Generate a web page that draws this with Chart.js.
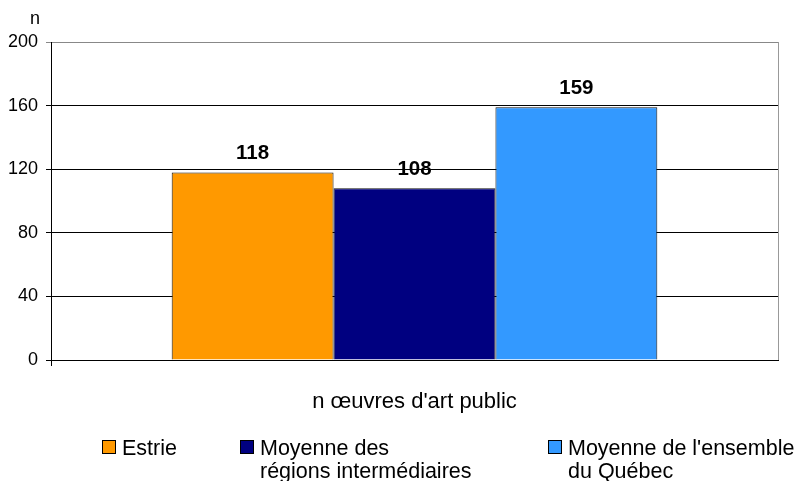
<!DOCTYPE html>
<html>
<head>
<meta charset="utf-8">
<script src="https://cdn.jsdelivr.net/npm/chart.js@4.4.0/dist/chart.umd.min.js"></script>
<style>
  body { margin: 0; background: #fff; }
  #wrap { width: 801px; height: 481px; }
</style>
</head>
<body>
<div id="wrap"><canvas id="chart" width="801" height="481"></canvas></div>
<script>
// data
const categories = ["n œuvres d'art public"];
const seriesNames = ['Estrie', 'Moyenne des\nrégions intermédiaires', "Moyenne de l'ensemble\ndu Québec"];
const seriesValues = [[118], [108], [159]];
const seriesColors = ['#FF9900', '#000080', '#3399FF'];
const yTicks = [0, 40, 80, 120, 160, 200];
const yUnit = 'n';

const FONT = '"Liberation Sans", Arial, sans-serif';

// value labels above each bar
const valueLabels = {
    id: 'valueLabels',
    afterDatasetsDraw(chart) {
        const ctx = chart.ctx;
        ctx.save();
        ctx.font = 'bold 20.5px ' + FONT;
        ctx.fillStyle = '#000';
        ctx.textAlign = 'center';
        ctx.textBaseline = 'middle';
        chart.data.datasets.forEach((ds, i) => {
            chart.getDatasetMeta(i).data.forEach((bar, j) => {
                ctx.fillText(ds.data[j], bar.x, bar.y - 19);
            });
        });
        ctx.restore();
    }
};

// grey right border, unit label and the legend at the bottom
const extras = {
    id: 'extras',
    afterDraw(chart) {
        const ctx = chart.ctx;
        const a = chart.chartArea;
        ctx.save();
        ctx.strokeStyle = '#999';
        ctx.lineWidth = 1;
        ctx.beginPath();
        ctx.moveTo(Math.round(a.right) + 0.5, a.top);
        ctx.lineTo(Math.round(a.right) + 0.5, a.bottom);
        ctx.stroke();

        // little tick below the origin
        ctx.strokeStyle = '#000';
        ctx.beginPath();
        ctx.moveTo(Math.round(a.left) + 0.5, a.bottom);
        ctx.lineTo(Math.round(a.left) + 0.5, a.bottom + 6);
        ctx.stroke();

        ctx.fillStyle = '#000';
        ctx.font = '18px ' + FONT;
        ctx.textAlign = 'center';
        ctx.textBaseline = 'middle';
        ctx.fillText(yUnit, 35, 19);

        // legend
        const xs = [102, 240, 548];
        ctx.font = '21.5px ' + FONT;
        ctx.textAlign = 'left';
        ctx.textBaseline = 'alphabetic';
        chart.data.datasets.forEach((ds, i) => {
            const x = xs[i];
            ctx.fillStyle = ds.backgroundColor;
            ctx.fillRect(x, 440, 13, 13);
            ctx.strokeStyle = '#000';
            ctx.strokeRect(x + 0.5, 440.5, 13, 13);
            ctx.fillStyle = '#000';
            ds.label.split('\n').forEach((line, k) => {
                ctx.fillText(line, x + 20, 455 + k * 23);
            });
        });
        ctx.restore();
    }
};

new Chart(document.getElementById('chart'), {
    type: 'bar',
    data: {
        labels: categories,
        datasets: seriesNames.map((name, i) => ({
            label: name,
            data: seriesValues[i],
            backgroundColor: seriesColors[i],
            borderColor: '#111',
            borderWidth: 1,
            barPercentage: 1,
            categoryPercentage: 0.668
        }))
    },
    options: {
        responsive: false,
        animation: false,
        layout: { padding: { top: 42, right: 23, left: 0, bottom: 0 } },
        plugins: {
            legend: { display: false },
            tooltip: { enabled: false }
        },
        scales: {
            x: {
                afterFit(scale) { scale.height = 121; },
                grid: { display: false },
                border: { display: true, color: '#000', width: 1 },
                ticks: { color: '#000', font: { family: FONT, size: 22 }, padding: 21 }
            },
            y: {
                min: 0,
                max: 200,
                afterFit(scale) { scale.width = 51; },
                afterBuildTicks(scale) { scale.ticks = yTicks.map(v => ({ value: v })); },
                grid: {
                    color: c => (c.tick && c.tick.value === 200 ? '#888' : '#000'),
                    lineWidth: 1,
                    tickLength: 5,
                    drawTicks: true
                },
                border: { display: true, color: '#000', width: 1 },
                ticks: { color: '#000', font: { family: FONT, size: 18 }, padding: 8 }
            }
        }
    },
    plugins: [valueLabels, extras]
});
</script>
</body>
</html>
